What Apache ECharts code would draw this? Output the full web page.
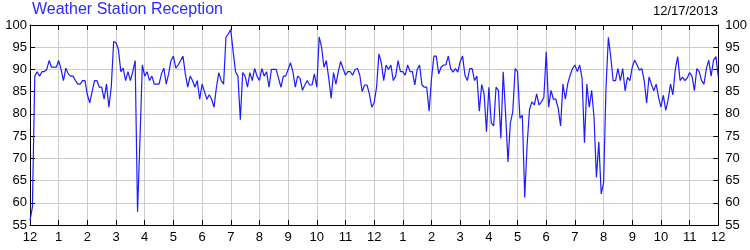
<!DOCTYPE html>
<html><head><meta charset="utf-8">
<script src="https://cdn.jsdelivr.net/npm/echarts@6/dist/echarts.min.js"></script>
<style>html,body{margin:0;padding:0;background:#fff}#c{width:750px;height:250px}</style>
</head><body><div id="c"></div>
<script>
const chartTitle = 'Weather Station Reception';
const chartDate = '12/17/2013';
const hourLabels = ['12','1','2','3','4','5','6','7','8','9','10','11','12','1','2','3','4','5','6','7','8','9','10','11','12'];
const yMin = 55, yMax = 100, yStep = 5;
const stepMinutes = 5;
// 00:00 - 11:55, one reading every 5 minutes
const firstHalf = [
56,59,88.5,89.5,88.5,89.5,89.5,90,92,90.5,90.5,90.5,
92,90,87.5,90.3,89,88.5,88.5,87.5,86.7,86.7,87.5,87.5,
84.3,82.5,85,87.5,87.5,86,86,83.3,86.7,81.5,86,96.3,
96,94.5,89.5,90.3,87.5,89.5,87.5,89.5,92,58,74,91,
88.5,89.5,87.5,88.5,86.7,86.7,86.7,89,90.3,86.7,89,92,
93,90.3,91,92,93,89,86,88.5,87.5,86,87.5,83.3,
86.7,85,83.3,84.3,83.3,81.5,86,89.3,87.5,86.7,97.3,98,
99,94,89.5,88.5,78.7,89.3,88.5,86,89.3,87.5,90.2,88.5,
87.5,90.2,88.5,89.5,86,90,90,90,88,86,88.5,88.5,
90,91.5,89.5,86,88.5,88,85.3,86.5,87.5,86.5,86.5,89,
86,97.3,95,90.5,92,88,83.5,89.3,86.7,89.5,91.8,90.2,
88.7,89.5,89.5,88.7,90,90.2,88.7,85,86.5,86.5,84.5,81.5
];
// 12:00 - 24:00
const secondHalf = [
82.5,86,93.5,91.5,87.5,91,90,91,87.5,88.5,92,89.5,
89.5,88.7,91,89.5,89.5,86.5,90,91,86.5,86,86,80.6,
88,93,93,89,90.5,91,91,93,90.2,89.4,90.2,89.4,
91.8,93,88.7,87.5,90.2,90.2,87.5,88.5,80.6,86.6,84.5,76,
86,78,77.3,86,85.3,74.5,89.5,80,69.2,78,80.5,90.2,
89.5,79,79.7,61.2,73,81,82.7,82,84.5,82,82.7,83.7,
94,81.5,85.3,83.3,83.3,81.3,77.3,86.7,83.3,86.8,88.7,90.2,
91,89.5,91,88,73.5,86.7,81.5,85.3,79.2,65.7,73.7,62,
64.5,85.8,97.2,92.8,87.5,87.5,90.2,87.5,90.2,85.2,88.2,87.5,
90.5,92.1,91,89.8,90.2,87.5,82.4,88.3,86.7,85.2,86.7,83.7,
81.5,84.2,80.8,83.2,86.7,84.3,90,92.9,87.5,88.3,87.5,88.1,
89.3,88.5,85.2,90.2,89.5,87.5,86.7,90.2,92.1,88.5,92.1,92.9,
88.4
];
const reception = firstHalf.concat(secondHalf);
const seriesData = reception.map((v, i) => [i * stepMinutes / 60, v]);

const FONT = 'Liberation Sans, Arial, sans-serif';
const black = '#000';
const axisBase = {
  axisLine: {show: true, onZero: false, lineStyle: {color: black, width: 1}},
  axisTick: {show: true, inside: true, length: 5, lineStyle: {color: black}},
};
const chart = echarts.init(document.getElementById('c'), null, {renderer: 'canvas'});
chart.setOption({
  animation: false,
  backgroundColor: '#fff',
  title: [
    {text: chartTitle, left: 32, top: 2, padding: 0,
     textStyle: {color: '#2b2bff', fontSize: 16, fontWeight: 'normal', fontFamily: FONT}},
    {text: chartDate, right: 32, top: 5, padding: 0,
     textStyle: {color: black, fontSize: 13, fontWeight: 'normal', fontFamily: FONT}}
  ],
  grid: {left: 30, right: 30, top: 25, bottom: 25, containLabel: false},
  xAxis: [
    Object.assign({type: 'value', min: 0, max: 24, interval: 1, position: 'bottom',
      axisLabel: {show: true, color: black, fontSize: 13, fontFamily: FONT, margin: 6,
        showMinLabel: true, showMaxLabel: true, hideOverlap: false,
        formatter: v => hourLabels[Math.round(v)]},
      splitLine: {show: true, lineStyle: {color: '#cccccc', width: 1}}}, axisBase),
    Object.assign({type: 'value', min: 0, max: 24, interval: 1, position: 'top',
      axisLabel: {show: false}, splitLine: {show: false}}, axisBase)
  ],
  yAxis: [
    Object.assign({type: 'value', min: yMin, max: yMax, interval: yStep, position: 'left',
      axisLabel: {show: true, color: black, fontSize: 13, fontFamily: FONT, margin: 3,
        showMinLabel: true, showMaxLabel: true},
      splitLine: {show: true, lineStyle: {color: '#cccccc', width: 1}}}, axisBase),
    Object.assign({type: 'value', min: yMin, max: yMax, interval: yStep, position: 'right',
      axisLabel: {show: true, color: black, fontSize: 13, fontFamily: FONT, margin: 7,
        showMinLabel: true, showMaxLabel: true},
      splitLine: {show: false}}, axisBase)
  ],
  series: [{
    type: 'line', xAxisIndex: 0, yAxisIndex: 0, data: seriesData,
    showSymbol: false, symbol: 'none', smooth: false,
    lineStyle: {color: '#1c1cff', width: 1.2}
  }]
});
</script></body></html>
